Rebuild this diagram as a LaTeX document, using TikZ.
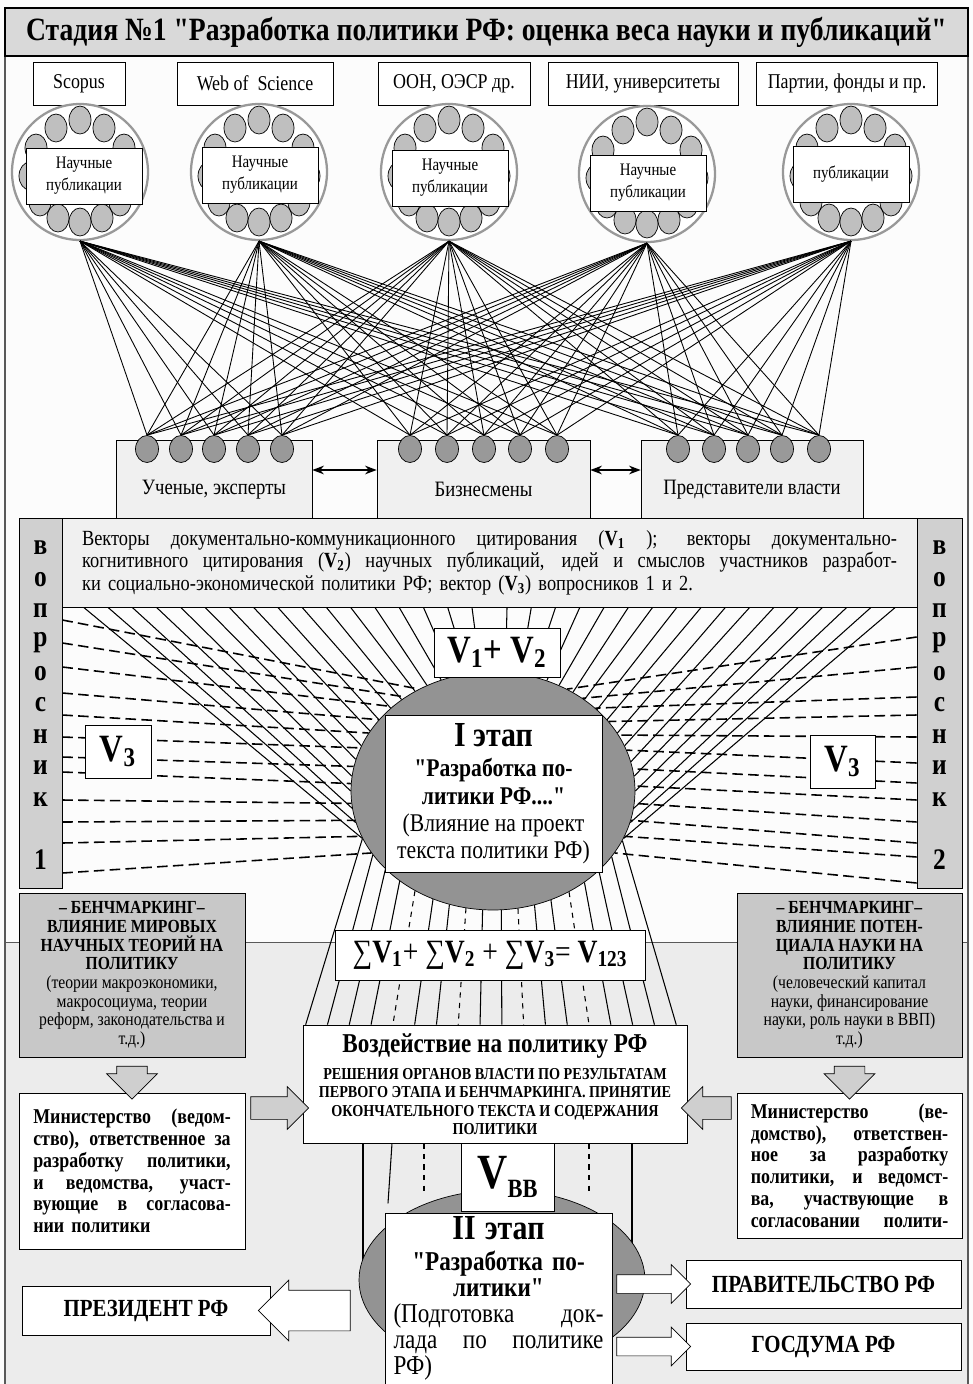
\documentclass[tikz,border=0pt]{standalone}
\usepackage{fontspec}
\setmainfont{Liberation Serif}[FakeStretch=0.85, Ligatures=TeXOff]
\usepackage{tikz}
\usetikzlibrary{arrows.meta}
\usetikzlibrary{positioning,calc}
\usetikzlibrary{shapes.geometric,shapes.arrows}
\pgfdeclarelayer{back}
\pgfdeclarelayer{rays}
\pgfsetlayers{back,rays,main}
\newcommand{\fsz}[2]{\fontsize{#1}{#2}\selectfont}
\newcommand{\jline}[1]{\makebox[\hsize][s]{\spaceskip=0.22em plus 1fil\relax #1}}
\tikzset{
    area/.style args={#1/#2/#3/#4}{
        at={({(#1+#3)/2},{(#2+#4)/2})},
        minimum width={(#3-#1)*0.02cm},
        minimum height={(#4-#2)*0.02cm}
    },
    srcbox/.style={
        draw,
        fill=white,
        minimum height=0.86cm,
        inner sep=0pt,
        font=\fsz{12}{13}
    },
    bigcirc/.style={
        circle,
        draw=gray!80,
        line width=1.3pt,
        fill=white,
        minimum size=2.72cm,
        inner sep=0pt
    },
    pub/.style={
        ellipse,
        draw,
        fill=gray!50,
        minimum width=0.44cm,
        minimum height=0.56cm,
        inner sep=0pt
    },
    pubbox/.style={
        draw,
        fill=white,
        minimum width=2.32cm,
        minimum height=1.12cm,
        align=center,
        font=\fsz{10}{12.5}
    },
    grp/.style={
        ellipse,
        draw,
        fill=gray!80,
        minimum width=0.46cm,
        minimum height=0.54cm,
        inner sep=0pt
    },
    grpbox/.style={
        draw,
        fill=gray!12,
        inner sep=0pt,
        font=\fsz{12.5}{14}
    },
    panel/.style={
        draw,
        inner sep=0pt
    },
    qletter/.style={
        font=\fsz{17}{19}\bfseries,
        inner sep=0pt
    },
    vbox/.style={
        draw,
        fill=white,
        inner sep=0pt,
        font=\fsz{22}{24}\bfseries
    },
    stage/.style={
        ellipse,
        draw,
        fill=gray!85,
        inner sep=0pt
    },
    grayarrow/.style={
        single arrow,
        draw,
        fill=gray!38,
        single arrow head extend=0.2cm
    },
    whitearrow/.style={
        single arrow,
        draw,
        fill=white,
        inner xsep=0pt,
        single arrow head extend=0.2cm
    },
    link/.style={line width=0.5pt},
    ray/.style={line width=0.6pt},
    dray/.style={line width=0.9pt, dash pattern=on 6pt off 3pt}
}

\begin{document}
\begin{tikzpicture}[x=0.02cm, y=-0.02cm, >=Stealth]
  \useasboundingbox (0,0) rectangle (973,1384);

  % Background and frame
  \begin{pgfonlayer}{back}
    \fill[gray!2] (0,0) rectangle (973,1384);
    \fill[gray!15] (5,942) rectangle (968,1384);
    \draw[gray!70!black] (5,942) -- (968,942);
    \draw[gray!70!black, line width=0.8pt] (5,56) -- (5,1384) (968,56) -- (968,1384);
  \end{pgfonlayer}

  % Title
  \node[panel, fill=gray!30, line width=0.8pt, area=5/8/968/56,
        font=\fsz{18.5}{20}\bfseries] (title)
        {Стадия №1 "Разработка политики РФ: оценка веса науки и публикаций"};

  % Sources
  \foreach \n/\x/\w/\t in {1/79/92/Scopus, 2/255/156/Web of\ \ Science,
      3/454/152/{ООН, ОЭСР др.}, 4/643/190/{НИИ, университеты},
      5/847/181/{Партии, фонды и пр.}}
    \node[srcbox, minimum width=\w*0.02cm] (src\n) at (\x,83.5) {\t};

  % Publication pools
  \foreach \n/\cx/\cy/\bx/\by/\t in {1/80/172/84/176/{Научные\\публикации},
      2/259/172/260/175/{Научные\\публикации}, 3/449/172/450/178/{Научные\\публикации},
      4/647/174/648/183/{Научные\\публикации}, 5/851/172/851/174/{публикации}}{
    \node[bigcirc] (circ\n) at (\cx,\cy) {};
    \foreach \dx/\dy [count=\k] in {-24/-44, 0/-52, 24/-44, -44/-24, 44/-24,
        -50/4, 50/4, -40/30, 40/30, -22/46, 0/50, 22/46}
      \node[pub] (pub\n-\k) at ({\cx+(\dx)},{\cy+(\dy)}) {};
    \node[pubbox] (pb\n) at (\bx,\by) {\t};
  }

  % Participants
  \node[grpbox, area=116/440/312/518] (sci) {\raisebox{-0.7cm}{Ученые, эксперты}};
  \node[grpbox, area=377/440/590/518] (bus) {\raisebox{-0.7cm}{Бизнесмены}};
  \node[grpbox, area=641/440/863/518] (gov) {\raisebox{-0.7cm}{Представители власти}};
  \draw[{Stealth}-{Stealth}, thick] (sci.east |- 0,470) -- (bus.west |- 0,470);
  \draw[{Stealth}-{Stealth}, thick] (bus.east |- 0,470) -- (gov.west |- 0,470);
  \foreach \x [count=\i] in {147,181,214,248,282,410,447,484,520,557,678,714,748,782,819}
    \node[grp] (g\i) at (\x,449) {};
  \foreach \n in {1,...,5}
    \foreach \i in {1,...,15}
      \draw[link] (circ\n.south) -- (g\i.north);

  % Vectors
  \node[panel, fill=gray!12, area=62/518/917/607, text width=16.3cm, align=left,
        font=\fsz{12.3}{12.8}] (vect)
        {\jline{Векторы документально-коммуникационного цитирования (\textbf{V\textsubscript{1}} ); векторы документально-}\\
         \jline{когнитивного цитирования (\textbf{V\textsubscript{2}}) научных публикаций, идей и смыслов участников разработ-}\\
         ки социально-экономической политики РФ; вектор (\textbf{V\textsubscript{3}}) вопросников 1 и 2.};

  % Questionnaires
  \node[panel, fill=gray!37, area=19/518/62/888] (q1) {};
  \node[panel, fill=gray!37, area=917/518/962/888] (q2) {};
  \foreach \l [count=\i] in {в,о,п,р,о,с,н,и,к}{
    \node[qletter] (ql\i) at (40.5,{548+31.4*(\i-1)}) {\l};
    \node[qletter] (qr\i) at (939.5,{548+31.4*(\i-1)}) {\l};
  }
  \node[qletter] (ql0) at (40.5,860) {1};
  \node[qletter] (qr0) at (939.5,860) {2};

  % Stage I
  \node[stage, minimum width=5.68cm, minimum height=4.76cm] (st1ell) at (493,791) {};
  \node[panel, fill=white, area=385/715/602/872, align=center,
        font=\fsz{14.5}{15.5}] (st1)
        {{\fsz{20}{22}\bfseries I этап}\\[2pt]
         \textbf{"Разработка по-}\\ \textbf{литики РФ...."}\\
         (Влияние на проект\\ текста политики РФ)};
  \node[vbox, area=434/628/560/677] (v12) {V\textsubscript{1}+ V\textsubscript{2}};
  \node[vbox, area=85/725/151/778] (v3l) {V\textsubscript{3}};
  \node[vbox, area=810/735/875/788] (v3r) {V\textsubscript{3}};

  % Sum of vectors
  \node[panel, fill=white, area=335/930/645/980, font=\fsz{18.5}{20}] (sum)
        {∑\textbf{V\textsubscript{1}}+ ∑\textbf{V\textsubscript{2}} + ∑\textbf{V\textsubscript{3}}= \textbf{V\textsubscript{123}}};

  % Benchmarking
  \node[panel, fill=gray!43, area=19/893/245/1057, align=center,
        font=\fsz{10.5}{10.6}] (bench1)
        {\textbf{– БЕНЧМАРКИНГ–}\\ \textbf{ВЛИЯНИЕ МИРОВЫХ}\\ \textbf{НАУЧНЫХ ТЕОРИЙ НА}\\
         \textbf{ПОЛИТИКУ}\\ (теории макроэкономики,\\ макросоциума, теории\\
         реформ, законодательства и\\ т.д.)};
  \node[panel, fill=gray!43, area=737/893/962/1057, align=center,
        font=\fsz{10.5}{10.6}] (bench2)
        {\textbf{– БЕНЧМАРКИНГ–}\\ \textbf{ВЛИЯНИЕ ПОТЕН-}\\ \textbf{ЦИАЛА НАУКИ НА}\\
         \textbf{ПОЛИТИКУ}\\ (человеческий капитал\\ науки, финансирование\\
         науки, роль науки в ВВП)\\ т.д.)};

  % Impact on policy
  \node[panel, fill=white, area=303/1025/687/1143, align=center,
        font=\fsz{9.5}{10.5}\bfseries] (vozd)
        {{\fsz{15.5}{17}Воздействие на политику РФ}\\[5pt]
         РЕШЕНИЯ ОРГАНОВ ВЛАСТИ ПО РЕЗУЛЬТАТАМ\\ ПЕРВОГО ЭТАПА И БЕНЧМАРКИНГА. ПРИНЯТИЕ\\
         ОКОНЧАТЕЛЬНОГО ТЕКСТА И СОДЕРЖАНИЯ\\ ПОЛИТИКИ};

  % Ministries
  \node[panel, fill=white, area=19/1093/245/1249, text width=3.95cm, align=left,
        font=\fsz{12}{12.4}\bfseries] (min1)
        {\jline{Министерство (ведом-}\\ \jline{ство), ответственное за}\\
         \jline{разработку политики,}\\ \jline{и ведомства, участ-}\\
         \jline{вующие в согласова-}\\ нии политики};
  \node[panel, fill=white, area=737/1093/962/1238, text width=3.95cm, align=left,
        font=\fsz{12}{12.4}\bfseries] (min2)
        {\jline{Министерство (ве-}\\ \jline{домство), ответствен-}\\
         \jline{ное за разработку}\\ \jline{политики, и ведомст-}\\
         \jline{ва, участвующие в}\\ \jline{согласовании полити-}};

  \node[grayarrow, shape border rotate=270, inner xsep=0.3cm, inner ysep=0pt,
        minimum height=0.66cm] (dn1) at ($(bench1.south)!0.5!(min1.north)$) {};
  \node[grayarrow, shape border rotate=270, inner xsep=0.3cm, inner ysep=0pt,
        minimum height=0.66cm] (dn2) at ($(bench2.south)!0.5!(min2.north)$) {};
  \node[grayarrow, inner xsep=0pt, inner ysep=0.22cm, minimum height=1.16cm]
        (ar1) at ($(min1.east |- 0,1108)!0.5!(vozd.west |- 0,1108)$) {};
  \node[grayarrow, shape border rotate=180, inner xsep=0pt, inner ysep=0.22cm,
        minimum height=1.0cm] (ar2) at ($(vozd.east |- 0,1108)!0.5!(min2.west |- 0,1108)$) {};

  % Rays of citation
  \begin{pgfonlayer}{rays}
    \foreach \i in {0,...,16}{
      \pgfmathtruncatemacro\al{200-6.5*\i}
      \pgfmathtruncatemacro\ar{-20+6.5*\i}
      \pgfmathsetmacro\fr{(22+24.25*\i)/855}
      \draw[ray] ($(vect.south west)!\fr!(vect.south east)$) -- (st1ell.\al);
      \draw[ray] ($(vect.south east)!\fr!(vect.south west)$) -- (st1ell.\ar);
    }
    \foreach \y [count=\i] in {620,643,667,693,715,737,757,772,800,822,843,873}{
      \pgfmathtruncatemacro\al{126+7.4*(\i-1)}
      \draw[dray] (q1.east |- 0,\y) -- (st1ell.\al);
    }
    \foreach \y [count=\i] in {637,667,697,715,737,763,783,800,822,843,857,883}{
      \pgfmathtruncatemacro\al{54-7.4*(\i-1)}
      \draw[dray] (q2.west |- 0,\y) -- (st1ell.\al);
    }
    \foreach \i in {0,1,2,3,5,6,8,9,11,12,14,15,16,17}{
      \pgfmathtruncatemacro\al{200+8.235*\i}
      \pgfmathsetmacro\fr{(3+21.76*\i)/384}
      \draw[ray] (st1ell.\al) -- ($(vozd.north west)!\fr!(vozd.north east)$);
    }
    \foreach \i in {4,7,10,13}{
      \pgfmathtruncatemacro\al{200+8.235*\i}
      \pgfmathsetmacro\fr{(3+21.76*\i)/384}
      \draw[ray, dashed] (st1ell.\al) -- ($(vozd.north west)!\fr!(vozd.north east)$);
    }
    % towards stage II
    \draw[ray] (vozd.south -| 363,0) -- ++(0,150);
    \draw[ray] (vozd.south -| 392,0) -- ++(-4,60);
    \draw[ray, dashed] (vozd.south -| 424,0) -- ++(0,50);
    \draw[ray, dashed] (vozd.south -| 589,0) -- ++(0,50);
    \draw[ray] (vozd.south -| 632,0) -- ++(0,150);
  \end{pgfonlayer}

  % Stage II
  \node[stage, minimum width=5.72cm, minimum height=3.6cm] (st2ell) at (502,1280) {};
  \node[panel, fill=white, area=461/1143/554/1211, font=\bfseries] (vbb)
        {\fsz{28}{30}V\raisebox{-0.4ex}{\fsz{15}{16}ВВ}};
  \node[panel, fill=white, area=385/1213/612/1384, text width=4.2cm, align=center,
        font=\fsz{15.5}{14.8}] (st2)
        {{\fsz{20}{22}\bfseries II этап}\\[3pt]
         \textbf{"Разработка по-}\\ \textbf{литики"}\\
         \jline{(Подготовка док-}\\ \jline{лада по политике}\\
         \makebox[\hsize][l]{РФ)}};

  % Addressees
  \node[panel, fill=white, area=22/1286/270/1335, font=\fsz{14}{16}\bfseries] (pres) {ПРЕЗИДЕНТ РФ};
  \node[panel, fill=white, area=686/1260/961/1308, font=\fsz{14}{16}\bfseries] (prav) {ПРАВИТЕЛЬСТВО РФ};
  \node[panel, fill=white, area=686/1323/961/1370, font=\fsz{14}{16}\bfseries] (gosd) {ГОСДУМА РФ};
  \node[whitearrow, shape border rotate=180, inner ysep=0.4cm, minimum height=1.84cm]
        (arp) at ($(pres.east)!0.5!(st2ell.west |- pres.east)$) {};
  \node[whitearrow, inner ysep=0.18cm, minimum height=1.48cm]
        (arg) at ($(st2.east |- prav.west)!0.5!(prav.west)$) {};
  \node[whitearrow, inner ysep=0.18cm, minimum height=1.48cm]
        (ard) at ($(st2.east |- gosd.west)!0.5!(gosd.west)$) {};
\end{tikzpicture}
\end{document}
